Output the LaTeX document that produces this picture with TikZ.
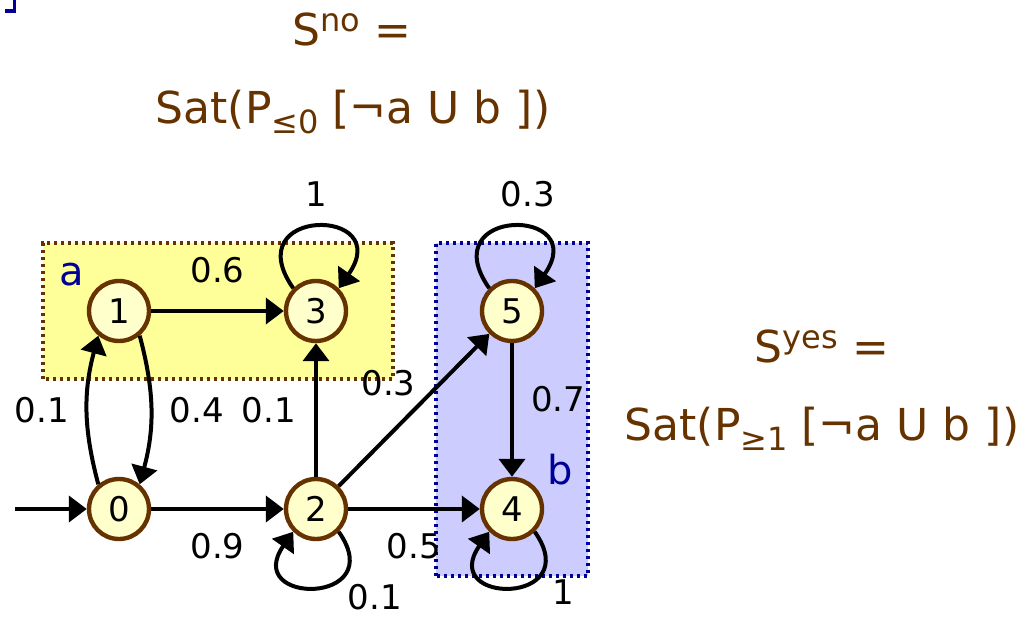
\documentclass[tikz,border=0pt]{standalone}
\usepackage{fontspec}
\setmainfont{DejaVu Sans}
\usepackage{tikz}
\usetikzlibrary{arrows.meta}
\definecolor{satbrown}{HTML}{663300}
\definecolor{labblue}{HTML}{000099}
\definecolor{stfill}{HTML}{FFFFCC}
\definecolor{aboxfill}{HTML}{FFFF99}
\definecolor{bboxfill}{HTML}{CCCCFF}
\newcommand{\hisup}[1]{\raisebox{7pt}{\fontsize{16}{16}\selectfont #1}}
\newcommand{\losub}[1]{\raisebox{-5pt}{\fontsize{16}{16}\selectfont #1}}
\tikzset{
        st_node/.style={circle, draw=satbrown, fill=stfill, line width=2.2pt,
                        minimum size=30pt, inner sep=0pt, font=\fontsize{17}{20}\selectfont},
        tr_edge/.style={line width=2pt, -{Triangle[length=9pt,width=13pt]}},
        pr_lbl/.style={inner sep=2pt, font=\fontsize{17}{20}\selectfont},
        ap_lbl/.style={text=labblue, font=\fontsize{20}{24}\selectfont},
        ap_box/.style={line width=1.6pt, dash pattern=on 1.6pt off 1.9pt},
        sat_text/.style={anchor=base, text=satbrown, font=\fontsize{22}{26}\selectfont},
        up_loop/.style={out=125, in=55, min distance=50pt},
        down_loop/.style={out=-55, in=-125, min distance=45pt}
    }

\begin{document}
\begin{tikzpicture}[x=0.5pt, y=0.5pt]
    \useasboundingbox (0,0) rectangle (1035,618);
    % cut-off bracket in the corner
    \fill[labblue] (12.7,605.3) rectangle (15.7,618);
    \fill[labblue] (5,605.3) rectangle (15.7,608.7);
    % label sets a and b
    \filldraw[ap_box, fill=aboxfill, draw=satbrown] (43,239) rectangle (393,375);
    \filldraw[ap_box, fill=bboxfill, draw=labblue] (436,42) rectangle (588,375);
    \node[ap_lbl] (lab_a) at (72,343) {a};
    \node[ap_lbl] (lab_b) at (560,148) {b};
    % states
    \node[st_node] (s0) at (119,109) {0};
    \node[st_node] (s1) at (119,307) {1};
    \node[st_node] (s2) at (316,109) {2};
    \node[st_node] (s3) at (316,307) {3};
    \node[st_node] (s4) at (512,109) {4};
    \node[st_node] (s5) at (512,307) {5};
    \coordinate (init) at (15,109);
    % transitions
    \draw[tr_edge] (init) -- (s0);
    \draw[tr_edge] (s0) -- node[pr_lbl, below=9pt] {0.9} (s2);
    \draw[tr_edge] (s0.130) to[bend left=15] node[pr_lbl, left=6pt] {0.1} (s1.230);
    \draw[tr_edge] (s1.310) to[bend left=15] node[pr_lbl, right=6.5pt] {0.4} (s0.50);
    \draw[tr_edge] (s1) -- node[pr_lbl, above=11pt] {0.6} (s3);
    \draw[tr_edge] (s3.135) to[up_loop] node[pr_lbl, above=7pt] {1} (s3.45);
    \draw[tr_edge] (s2) -- node[pr_lbl, left=7pt] {0.1} (s3);
    \draw[tr_edge] (s2) -- node[pr_lbl, pos=0.55, above left] {0.3} (s5);
    \draw[tr_edge] (s2) -- node[pr_lbl, below=9pt] {0.5} (s4);
    \draw[tr_edge] (s2.-45) to[down_loop]
        node[pr_lbl, pos=0.3, below right] {0.1} (s2.225);
    \draw[tr_edge] (s5.135) to[up_loop]
        node[pr_lbl, above=7pt, xshift=8pt] {0.3} (s5.45);
    \draw[tr_edge] (s5) -- node[pr_lbl, pos=0.42, right=6.5pt] {0.7} (s4);
    \draw[tr_edge] (s4.-45) to[down_loop]
        node[pr_lbl, pos=0.25, below right, xshift=2pt] {1} (s4.225);
    % reachability sets
    \node[sat_text] (sno) at (352,573) {S\hisup{no} =};
    \node[sat_text] (sno_sat) at (353,495) {Sat(P\losub{≤0} [¬a U b ])};
    \node[sat_text] (syes) at (822,256) {S\hisup{yes} =};
    \node[sat_text] (syes_sat) at (822,178) {Sat(P\losub{≥1} [¬a U b ])};
\end{tikzpicture}
\end{document}
